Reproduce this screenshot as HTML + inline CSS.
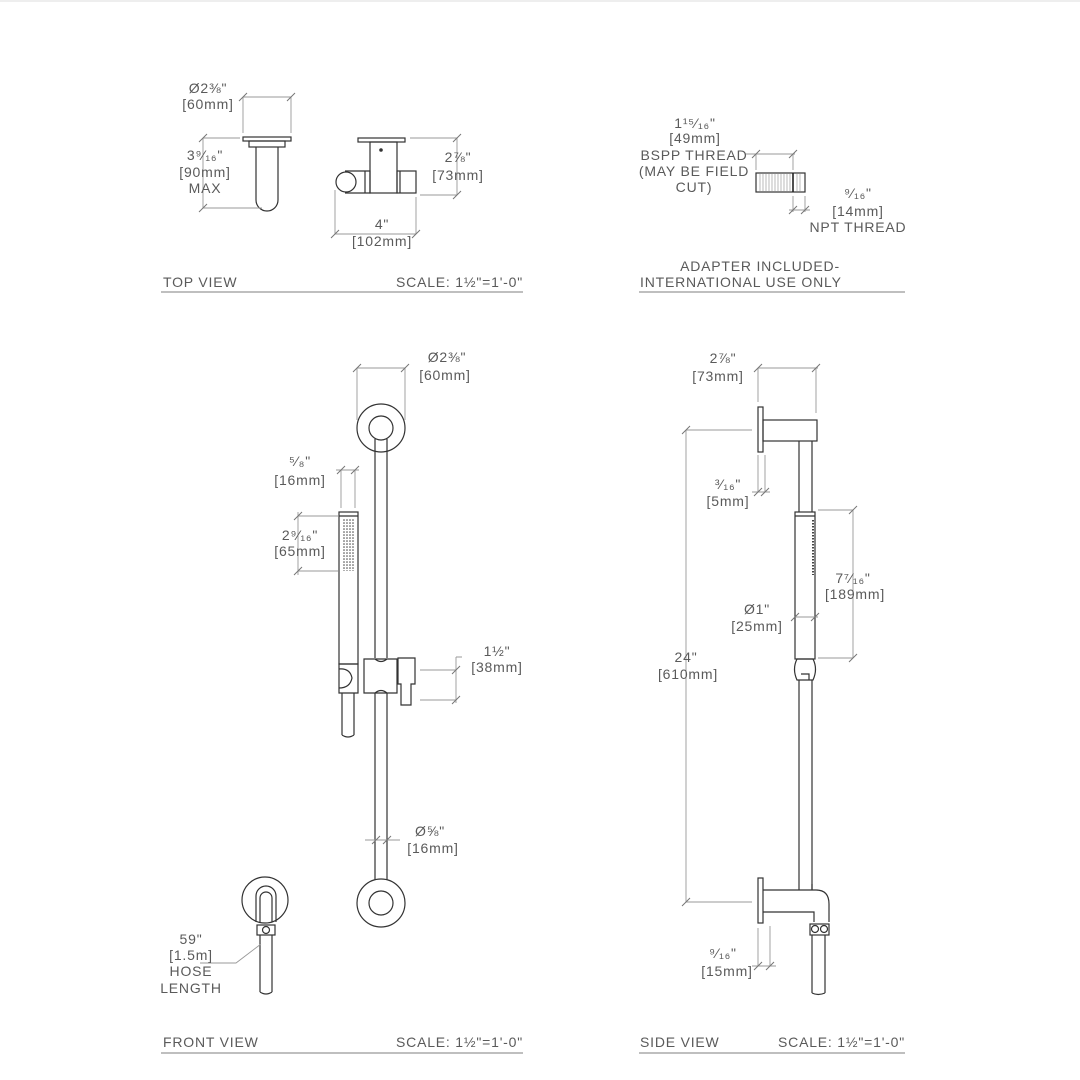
<!DOCTYPE html>
<html><head><meta charset="utf-8"><style>
html,body{margin:0;padding:0;background:#fff}
svg{display:block}
text{font-family:"Liberation Sans","DejaVu Sans",sans-serif;font-size:14px;fill:#5a5a5a;letter-spacing:0.8px}
.o{stroke:#333;stroke-width:1.2;fill:none}
.d{stroke:#999;stroke-width:0.9;fill:none}
.t{stroke:#777;stroke-width:1;fill:none}
.u{stroke:#aaa;stroke-width:1.5}
</style></head><body>
<svg width="1080" height="1080" viewBox="0 0 1080 1080" xmlns="http://www.w3.org/2000/svg">
<line x1="0" y1="1" x2="1080" y2="1" stroke="#ddd"/>
<line class="u" x1="161" y1="292" x2="523" y2="292"/>
<line class="u" x1="639" y1="292" x2="905" y2="292"/>
<line class="u" x1="161" y1="1053" x2="523" y2="1053"/>
<line class="u" x1="639" y1="1053" x2="905" y2="1053"/>
<text x="163" y="287">TOP VIEW</text>
<text x="523" y="287" text-anchor="end">SCALE: 1½"=1'-0"</text>
<text x="163" y="1047">FRONT VIEW</text>
<text x="523" y="1047" text-anchor="end">SCALE: 1½"=1'-0"</text>
<text x="640" y="1047">SIDE VIEW</text>
<text x="905" y="1047" text-anchor="end">SCALE: 1½"=1'-0"</text>
<text x="760" y="271" text-anchor="middle">ADAPTER INCLUDED-</text>
<text x="640" y="287">INTERNATIONAL USE ONLY</text>

<rect class="o" x="243" y="137" width="48" height="4"/>
<rect class="o" x="249" y="141" width="36" height="6"/>
<path class="o" d="M256 147 V200 A11 11 0 0 0 278 200 V147"/>
<path class="d" d="M243 97 H291 M243 97 V133 M291 97 V133 M203 138 H240 M203 208 H262 M203 138 V208"/>
<path class="t" d="M239 101 L247 93 M287 101 L295 93 M199 142 L207 134 M199 212 L207 204"/>
<text x="208" y="93" text-anchor="middle">Ø2⅜"</text>
<text x="208" y="109" text-anchor="middle">[60mm]</text>
<text x="205" y="160" text-anchor="middle">3⁹⁄₁₆"</text>
<text x="205" y="177" text-anchor="middle">[90mm]</text>
<text x="205" y="193" text-anchor="middle">MAX</text>

<rect class="o" x="358" y="138" width="47" height="4"/>
<rect class="o" x="370" y="142" width="27" height="51"/>
<circle cx="381" cy="150" r="1.8" fill="#333"/>
<path class="o" d="M345 171 H370 V193 H345"/>
<circle class="o" cx="346" cy="182" r="10"/>
<line class="o" x1="365" y1="171" x2="365" y2="193"/>
<rect class="o" x="397" y="171" width="19" height="22"/>
<line class="o" x1="400" y1="171" x2="400" y2="193"/>
<path class="d" d="M410 138 H457 M420 195 H457 M457 138 V195 M335 190 V234 M416 197 V234 M335 234 H416"/>
<path class="t" d="M453 142 L461 134 M453 199 L461 191 M331 238 L339 230 M412 238 L420 230"/>
<text x="458" y="162" text-anchor="middle">2⅞"</text>
<text x="458" y="180" text-anchor="middle">[73mm]</text>
<text x="382" y="229" text-anchor="middle">4"</text>
<text x="382" y="246" text-anchor="middle">[102mm]</text>

<rect class="o" x="756" y="173" width="49" height="19" stroke="#555"/>
<path d="M760 174V191 M763 174V191 M766 174V191 M769 174V191 M772 174V191 M775 174V191 M778 174V191 M781 174V191 M784 174V191 M787 174V191 M790 174V191 M797 174V191 M800 174V191" stroke="#aaa" stroke-width="0.8"/>
<line x1="793" y1="173" x2="793" y2="192" stroke="#222" stroke-width="1.6"/>
<path class="d" d="M755 154 H795 M756 154 V170 M793 154 V170 M793 196 V212 M805 196 V212 M789 210 H810 M745 154 H755"/>
<path class="t" d="M752 158 L760 150 M789 158 L797 150 M789 214 L797 206 M801 214 L809 206"/>
<text x="695" y="128" text-anchor="middle">1¹⁵⁄₁₆"</text>
<text x="695" y="143" text-anchor="middle">[49mm]</text>
<text x="694" y="160" text-anchor="middle">BSPP THREAD</text>
<text x="694" y="176" text-anchor="middle">(MAY BE FIELD</text>
<text x="694" y="192" text-anchor="middle">CUT)</text>
<text x="858" y="198" text-anchor="middle">⁹⁄₁₆"</text>
<text x="858" y="216" text-anchor="middle">[14mm]</text>
<text x="858" y="232" text-anchor="middle">NPT THREAD</text>

<circle class="o" cx="381" cy="428" r="24"/>
<circle class="o" cx="381" cy="428" r="12"/>
<path class="o" d="M375 439 V658 M387 439 V658 M375 693 V880 M387 693 V880"/>
<circle class="o" cx="381" cy="903" r="24"/>
<circle class="o" cx="381" cy="903" r="12"/>
<rect class="o" x="339" y="512" width="19" height="152"/>
<line class="o" x1="339" y1="516" x2="358" y2="516"/>
<pattern id="dots" x="343" y="519" width="3" height="3" patternUnits="userSpaceOnUse"><circle cx="1" cy="1" r="0.8" fill="#444"/></pattern>
<rect x="342" y="519" width="12" height="52" fill="url(#dots)"/>
<path class="o" d="M339 664 H358 V693 H339 Z M339 669 Q350 668 352 678 Q350 688 339 688"/>
<path class="o" d="M342 693 V735 M354 693 V735 M342 735 Q348 739 354 735"/>
<path class="o" d="M364 659 H397 V693 H364 Z M375 659 Q381 664 387 659 M375 693 Q381 688 387 693"/>
<path class="o" d="M398 658 H415 V684 H411 V705 H401 V684 H398 Z"/>
<path class="d" d="M357 368 H405 M357 368 V420 M405 368 V420 M341 470 V508 M355 470 V508 M336 470 H359 M298 516 H338 M298 571 H338 M298 512 V575 M420 670 H456 M420 700 H456 M456 657 V703 M456 657 H462 M365 840 H400"/>
<path class="t" d="M353 372 L361 364 M401 372 L409 364 M337 474 L345 466 M351 474 L359 466 M294 520 L302 512 M294 575 L302 567 M452 674 L460 666 M452 704 L460 696 M372 844 L380 836 M383 844 L391 836"/>
<text x="447" y="362" text-anchor="middle">Ø2⅜"</text>
<text x="445" y="380" text-anchor="middle">[60mm]</text>
<text x="300" y="466" text-anchor="middle">⁵⁄₈"</text>
<text x="300" y="485" text-anchor="middle">[16mm]</text>
<text x="300" y="540" text-anchor="middle">2⁹⁄₁₆"</text>
<text x="300" y="556" text-anchor="middle">[65mm]</text>
<text x="497" y="656" text-anchor="middle">1½"</text>
<text x="497" y="672" text-anchor="middle">[38mm]</text>
<text x="430" y="836" text-anchor="middle">Ø⅝"</text>
<text x="433" y="853" text-anchor="middle">[16mm]</text>
<circle class="o" cx="265" cy="900" r="23"/>
<path class="o" d="M256 922 V896 A10 10 0 0 1 276 896 V922 M260 922 V898 A6 6 0 0 1 272 898 V922"/>
<rect class="o" x="257" y="925" width="18" height="10"/>
<circle class="o" cx="266" cy="930" r="3.5"/>
<path class="o" d="M260 935 V992 M272 935 V992 M260 992 Q266 996 272 992"/>
<path class="d" d="M261 944 L236 963 H200"/>
<text x="191" y="944" text-anchor="middle">59"</text>
<text x="191" y="960" text-anchor="middle">[1.5m]</text>
<text x="191" y="976" text-anchor="middle">HOSE</text>
<text x="191" y="993" text-anchor="middle">LENGTH</text>

<rect class="o" x="758" y="407" width="5" height="45"/>
<rect class="o" x="763" y="420" width="54" height="21"/>
<path class="o" d="M799 441 V512 M812 441 V512"/>
<rect class="o" x="795" y="512" width="20" height="147"/>
<line class="o" x1="795" y1="516" x2="815" y2="516"/>
<line x1="813" y1="520" x2="813" y2="575" stroke="#444" stroke-width="2" stroke-dasharray="1.5 1.5"/>
<path class="o" d="M797 659 H813 Q818 669 813 680 H797 Q792 669 797 659 Z M801 674 H809 V680"/>
<path class="o" d="M799 680 V890 M812 680 V890"/>
<rect class="o" x="758" y="878" width="5" height="45"/>
<path class="o" d="M763 890 H816 Q829 890 829 904 V922 M763 912 H814 V922 M812 890 V884"/>
<rect class="o" x="810" y="924" width="19" height="11"/>
<circle class="o" cx="815" cy="929" r="3.5"/>
<circle class="o" cx="824" cy="929" r="3.5"/>
<path class="o" d="M812 935 V993 M825 935 V993 M812 993 Q818 996 825 993"/>
<path class="d" d="M758 368 H818 M758 368 V402 M816 368 V413 M686 430 V902 M686 430 H752 M686 902 H752 M758 455 V492 M765 455 V492 M752 492 H770 M818 510 H853 M818 658 H853 M853 510 V658 M795 617 H818 M758 928 V966 M770 926 V966 M752 966 H776"/>
<path class="t" d="M754 372 L762 364 M812 372 L820 364 M682 434 L690 426 M682 906 L690 898 M754 496 L762 488 M761 496 L769 488 M849 514 L857 506 M849 662 L857 654 M791 621 L799 613 M811 621 L819 613 M754 970 L762 962 M766 970 L774 962"/>
<text x="723" y="363" text-anchor="middle">2⅞"</text>
<text x="718" y="381" text-anchor="middle">[73mm]</text>
<text x="728" y="489" text-anchor="middle">³⁄₁₆"</text>
<text x="728" y="506" text-anchor="middle">[5mm]</text>
<text x="853" y="583" text-anchor="middle">7⁷⁄₁₆"</text>
<text x="855" y="599" text-anchor="middle">[189mm]</text>
<text x="757" y="614" text-anchor="middle">Ø1"</text>
<text x="757" y="631" text-anchor="middle">[25mm]</text>
<text x="686" y="662" text-anchor="middle">24"</text>
<text x="688" y="679" text-anchor="middle">[610mm]</text>
<text x="723" y="958" text-anchor="middle">⁹⁄₁₆"</text>
<text x="727" y="976" text-anchor="middle">[15mm]</text>
</svg>
</body></html>
